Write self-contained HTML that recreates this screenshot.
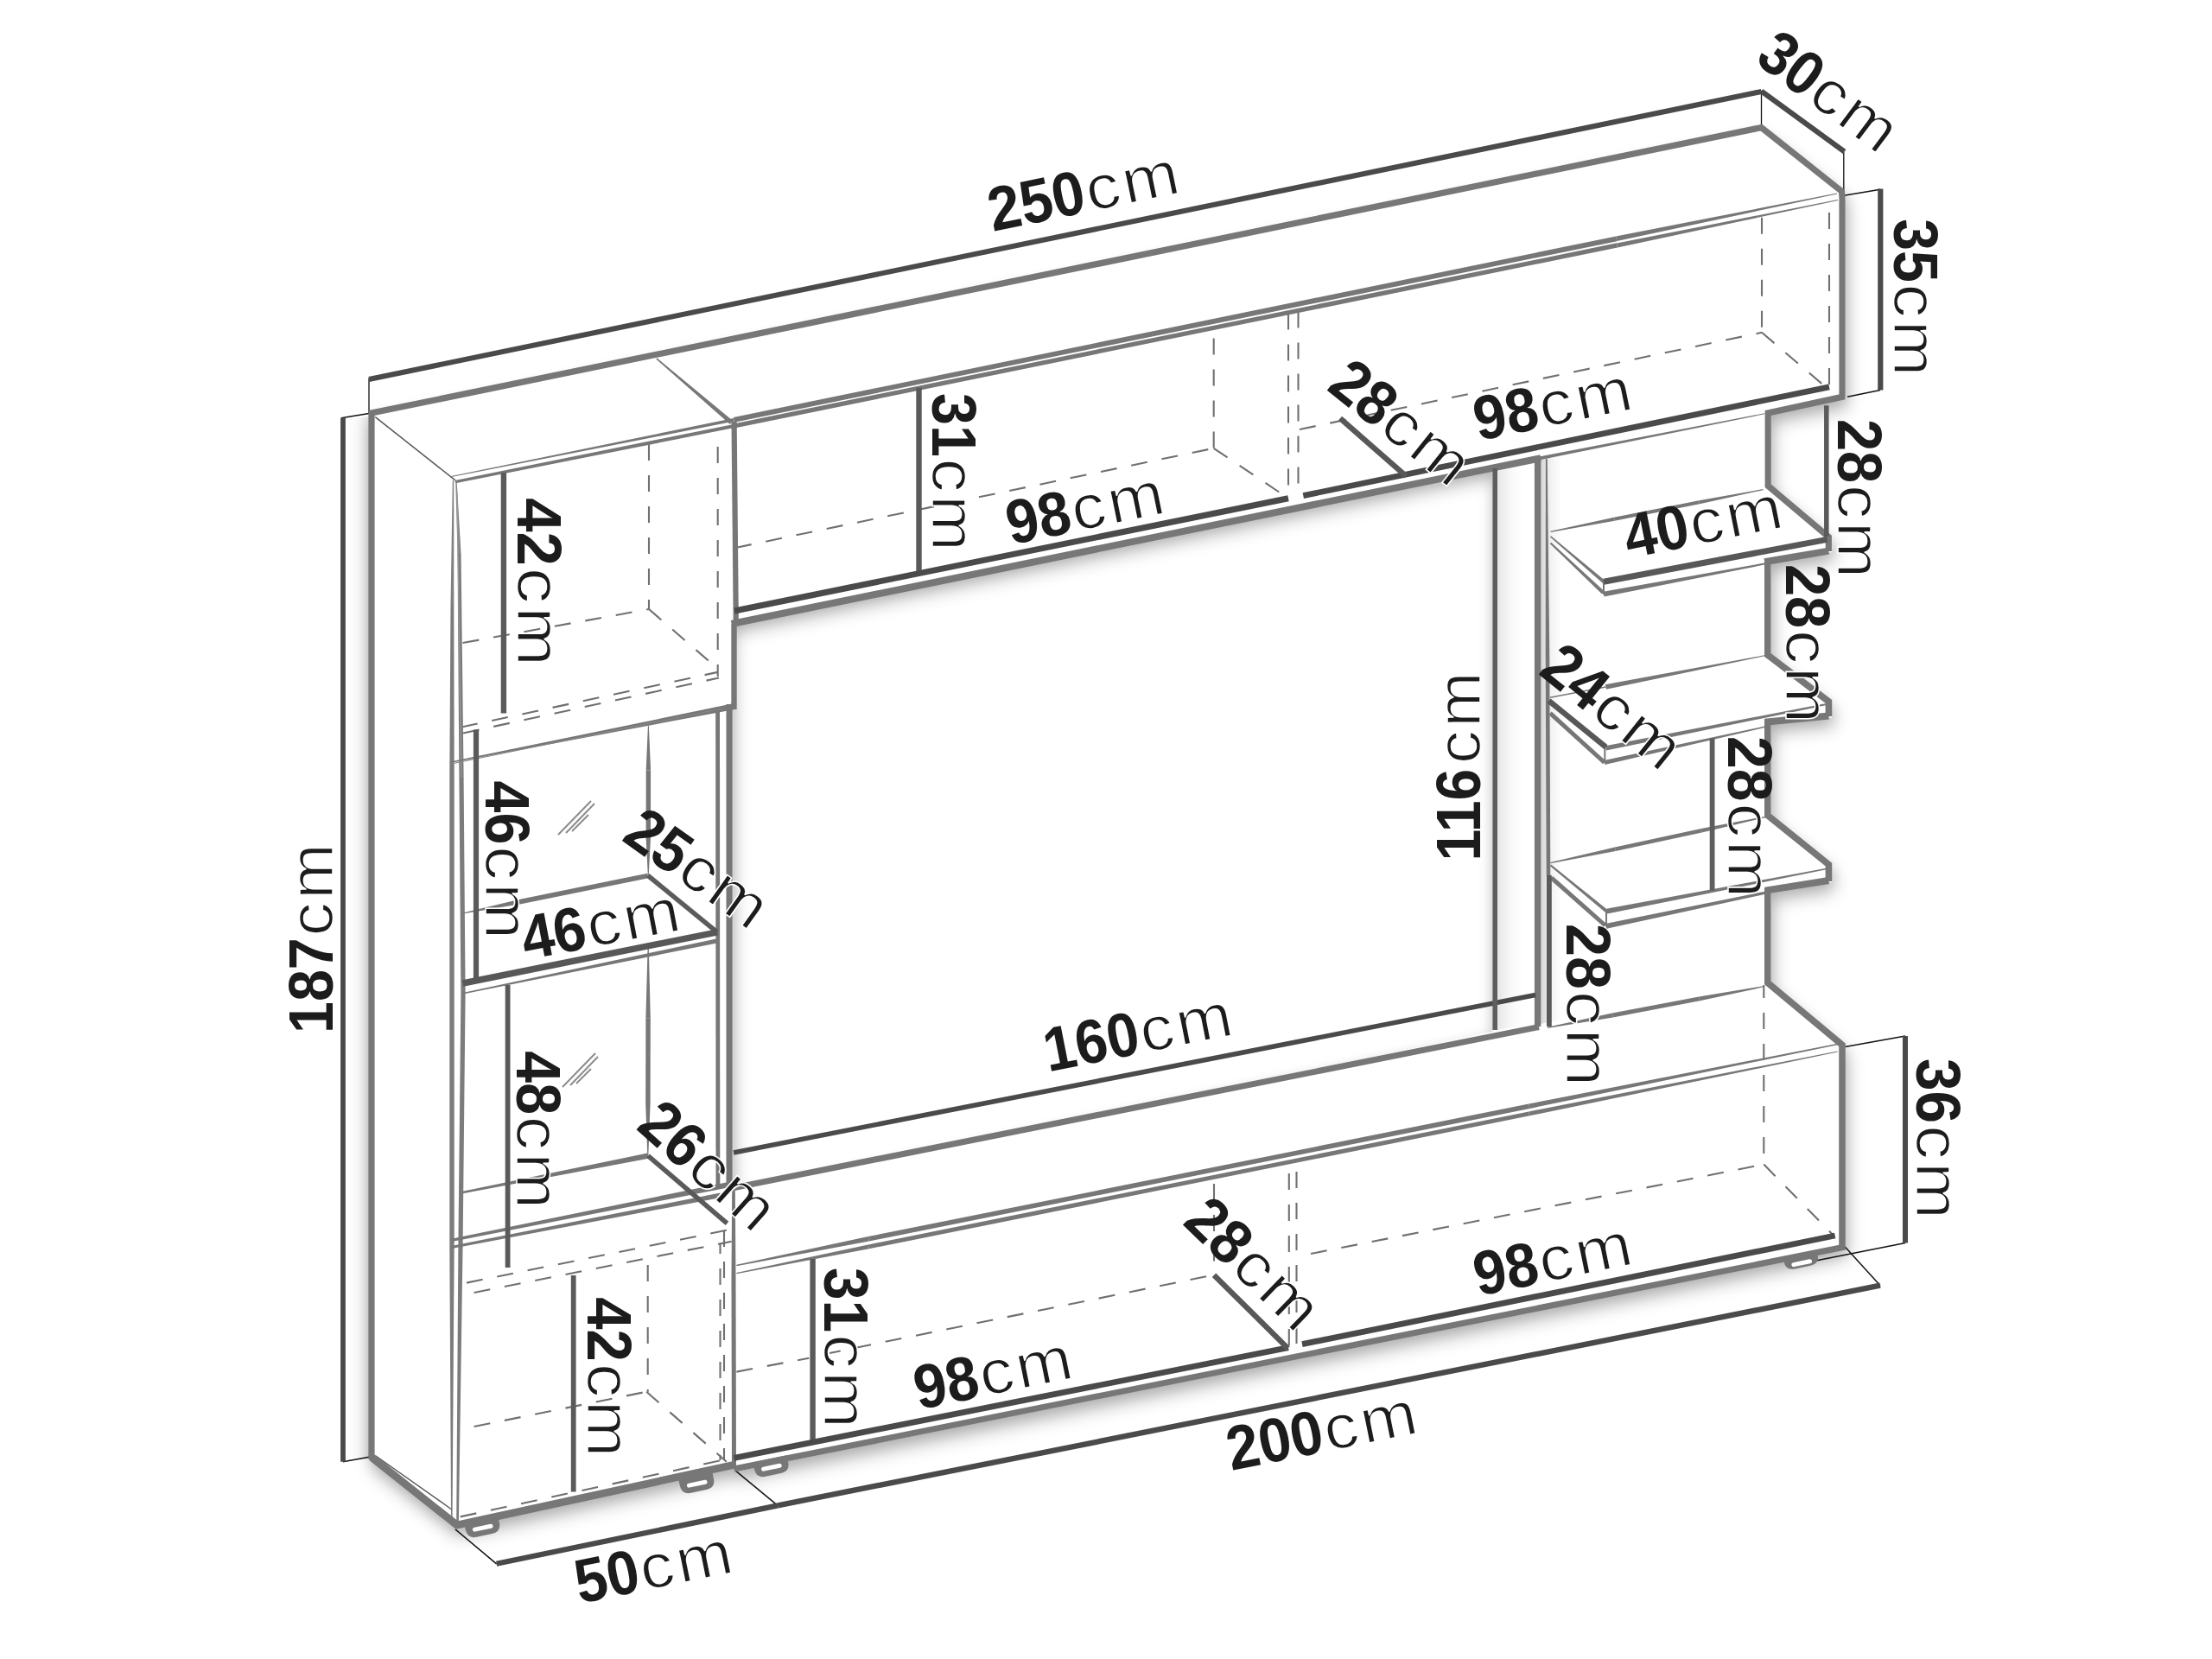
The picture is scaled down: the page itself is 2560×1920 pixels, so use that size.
<!DOCTYPE html>
<html><head><meta charset="utf-8"><title>Dimensions</title>
<style>
html,body{margin:0;padding:0;background:#fff;}
body{width:2560px;height:1920px;overflow:hidden;}
svg{display:block;font-family:"Liberation Sans",sans-serif;}
</style></head><body>
<svg width="2560" height="1920" viewBox="0 0 2560 1920">
<defs>
<filter id="blur" x="-5%" y="-5%" width="110%" height="110%"><feGaussianBlur stdDeviation="10"/></filter>
<filter id="blur2" x="-5%" y="-5%" width="110%" height="110%"><feGaussianBlur stdDeviation="7"/></filter>
<linearGradient id="g1" gradientUnits="userSpaceOnUse" x1="1733.0" y1="800.0" x2="1762.0" y2="800.0"><stop offset="0" stop-color="#000" stop-opacity="0.1"/><stop offset="0.5" stop-color="#000" stop-opacity="0.030"/><stop offset="1" stop-color="#000" stop-opacity="0"/></linearGradient>
<linearGradient id="g2" gradientUnits="userSpaceOnUse" x1="1783.0" y1="800.0" x2="1808.0" y2="800.0"><stop offset="0" stop-color="#000" stop-opacity="0.16"/><stop offset="0.5" stop-color="#000" stop-opacity="0.048"/><stop offset="1" stop-color="#000" stop-opacity="0"/></linearGradient>
<linearGradient id="g3" gradientUnits="userSpaceOnUse" x1="427.0" y1="1000.0" x2="402.0" y2="1000.0"><stop offset="0" stop-color="#000" stop-opacity="0.1"/><stop offset="0.5" stop-color="#000" stop-opacity="0.030"/><stop offset="1" stop-color="#000" stop-opacity="0"/></linearGradient>
</defs>
<rect width="2560" height="1920" fill="#ffffff"/>
<g filter="url(#blur)" opacity="0.26"><path d="M427.0,478.6 L2038.5,147.6 L2135.5,222.0 L2135.5,461.5 L2049.8,479.0 L2049.8,562.0 L2120.0,622.0 L2120.0,639.0 L2049.8,651.0 L2049.8,758.0 L2120.0,812.0 L2120.0,830.5 L2049.8,837.0 L2049.8,944.0 L2120.0,1000.5 L2120.0,1021.0 L2049.8,1031.5 L2049.8,1138.0 L2135.5,1210.0 L2135.5,1445.0 L852.0,1703.0 L852.0,1698.0 L528.3,1768.5 L427.0,1689.0 Z M847.0,722.0 L1727.5,541.7 L1727.5,1194.0 L847.0,1377.5 Z" fill="#000" fill-rule="evenodd" transform="translate(3,11)"/></g>
<g filter="url(#blur2)" opacity="0.08"><path d="M427.0,478.6 L2038.5,147.6 L2135.5,222.0 L2135.5,461.5 L2049.8,479.0 L2049.8,562.0 L2120.0,622.0 L2120.0,639.0 L2049.8,651.0 L2049.8,758.0 L2120.0,812.0 L2120.0,830.5 L2049.8,837.0 L2049.8,944.0 L2120.0,1000.5 L2120.0,1021.0 L2049.8,1031.5 L2049.8,1138.0 L2135.5,1210.0 L2135.5,1445.0 L852.0,1703.0 L852.0,1698.0 L528.3,1768.5 L427.0,1689.0 Z M847.0,722.0 L1727.5,541.7 L1727.5,1194.0 L847.0,1377.5 Z" fill="#000" fill-rule="evenodd" transform="translate(1,5)"/></g>
<path d="M427.0,478.6 L2038.5,147.6 L2135.5,222.0 L2135.5,461.5 L2049.8,479.0 L2049.8,562.0 L2120.0,622.0 L2120.0,639.0 L2049.8,651.0 L2049.8,758.0 L2120.0,812.0 L2120.0,830.5 L2049.8,837.0 L2049.8,944.0 L2120.0,1000.5 L2120.0,1021.0 L2049.8,1031.5 L2049.8,1138.0 L2135.5,1210.0 L2135.5,1445.0 L852.0,1703.0 L852.0,1698.0 L528.3,1768.5 L427.0,1689.0 Z M847.0,722.0 L1727.5,541.7 L1727.5,1194.0 L847.0,1377.5 Z" fill="#fff" fill-rule="evenodd"/>
<polygon points="1733.0,545.0 1762.0,540.0 1762.0,1187.0 1733.0,1192.0" fill="url(#g1)"/>
<polygon points="1783.0,531.0 1808.0,525.0 1808.0,1180.0 1783.0,1185.0" fill="url(#g2)"/>
<polygon points="400.0,486.0 427.0,482.0 427.0,1688.0 400.0,1692.0" fill="url(#g3)"/>
<line x1="427.0" y1="438.0" x2="427.0" y2="478.0" stroke="#111111" stroke-width="1.3" stroke-linecap="butt"/>
<line x1="395.0" y1="483.8" x2="427.0" y2="478.6" stroke="#111111" stroke-width="1.5" stroke-linecap="butt"/>
<line x1="2038.5" y1="105.0" x2="2038.5" y2="145.0" stroke="#111111" stroke-width="1.3" stroke-linecap="butt"/>
<line x1="2133.8" y1="176.0" x2="2133.8" y2="226.0" stroke="#111111" stroke-width="1.3" stroke-linecap="butt"/>
<line x1="2134.4" y1="226.2" x2="2176.0" y2="219.2" stroke="#111111" stroke-width="1.5" stroke-linecap="butt"/>
<line x1="2138.0" y1="459.3" x2="2176.0" y2="451.4" stroke="#111111" stroke-width="1.5" stroke-linecap="butt"/>
<line x1="397.0" y1="1691.7" x2="428.5" y2="1686.0" stroke="#111111" stroke-width="1.5" stroke-linecap="butt"/>
<line x1="526.9" y1="1769.9" x2="574.6" y2="1809.8" stroke="#111111" stroke-width="1.5" stroke-linecap="butt"/>
<line x1="851.0" y1="1701.9" x2="900.0" y2="1742.4" stroke="#111111" stroke-width="1.5" stroke-linecap="butt"/>
<line x1="2135.3" y1="1443.0" x2="2176.0" y2="1487.7" stroke="#111111" stroke-width="1.5" stroke-linecap="butt"/>
<line x1="2135.5" y1="1211.5" x2="2205.0" y2="1199.0" stroke="#111111" stroke-width="1.5" stroke-linecap="butt"/>
<line x1="2096.5" y1="1460.0" x2="2205.0" y2="1438.5" stroke="#111111" stroke-width="1.5" stroke-linecap="butt"/>
<line x1="751.0" y1="514.0" x2="751.0" y2="705.0" stroke="#707070" stroke-width="2.1" stroke-dasharray="19 17" stroke-dashoffset="0"/>
<line x1="830.7" y1="517.0" x2="830.7" y2="783.0" stroke="#707070" stroke-width="2.1" stroke-dasharray="19 17" stroke-dashoffset="0"/>
<line x1="535.6" y1="744.0" x2="751.0" y2="705.0" stroke="#707070" stroke-width="2.1" stroke-dasharray="19 17" stroke-dashoffset="0"/>
<line x1="751.0" y1="705.0" x2="830.7" y2="774.0" stroke="#707070" stroke-width="2.1" stroke-dasharray="19 17" stroke-dashoffset="0"/>
<line x1="534.0" y1="841.5" x2="830.7" y2="777.9" stroke="#707070" stroke-width="2.1" stroke-dasharray="19 17" stroke-dashoffset="0"/>
<line x1="536.0" y1="848.5" x2="832.0" y2="784.5" stroke="#707070" stroke-width="2.1" stroke-dasharray="19 17" stroke-dashoffset="0"/>
<line x1="851.0" y1="634.0" x2="1404.7" y2="518.8" stroke="#707070" stroke-width="2.1" stroke-dasharray="19 17" stroke-dashoffset="0"/>
<line x1="1404.7" y1="391.5" x2="1404.7" y2="518.8" stroke="#707070" stroke-width="2.1" stroke-dasharray="19 17" stroke-dashoffset="0"/>
<line x1="1404.7" y1="518.8" x2="1491.0" y2="576.7" stroke="#707070" stroke-width="2.1" stroke-dasharray="19 17" stroke-dashoffset="0"/>
<line x1="1491.0" y1="362.5" x2="1491.0" y2="573.8" stroke="#707070" stroke-width="2.1" stroke-dasharray="19 17" stroke-dashoffset="0"/>
<line x1="1502.5" y1="360.5" x2="1502.5" y2="571.8" stroke="#707070" stroke-width="2.1" stroke-dasharray="19 17" stroke-dashoffset="0"/>
<line x1="1504.0" y1="497.0" x2="2039.0" y2="384.8" stroke="#707070" stroke-width="2.1" stroke-dasharray="19 17" stroke-dashoffset="0"/>
<line x1="2039.0" y1="251.7" x2="2039.0" y2="384.8" stroke="#707070" stroke-width="2.1" stroke-dasharray="19 17" stroke-dashoffset="0"/>
<line x1="2039.0" y1="384.8" x2="2117.0" y2="451.4" stroke="#707070" stroke-width="2.1" stroke-dasharray="19 17" stroke-dashoffset="0"/>
<line x1="2117.0" y1="246.0" x2="2117.0" y2="451.4" stroke="#707070" stroke-width="2.1" stroke-dasharray="19 17" stroke-dashoffset="0"/>
<line x1="540.0" y1="1484.6" x2="840.8" y2="1423.8" stroke="#707070" stroke-width="2.1" stroke-dasharray="19 17" stroke-dashoffset="0"/>
<line x1="548.6" y1="1496.0" x2="846.6" y2="1436.8" stroke="#707070" stroke-width="2.1" stroke-dasharray="19 17" stroke-dashoffset="0"/>
<line x1="749.7" y1="1464.0" x2="749.7" y2="1610.7" stroke="#707070" stroke-width="2.1" stroke-dasharray="19 17" stroke-dashoffset="0"/>
<line x1="838.0" y1="1424.0" x2="838.0" y2="1690.0" stroke="#707070" stroke-width="2.1" stroke-dasharray="19 17" stroke-dashoffset="0"/>
<line x1="833.5" y1="1440.0" x2="833.5" y2="1690.0" stroke="#707070" stroke-width="2.1" stroke-dasharray="19 17" stroke-dashoffset="8"/>
<line x1="548.6" y1="1651.0" x2="748.2" y2="1610.7" stroke="#707070" stroke-width="2.1" stroke-dasharray="19 17" stroke-dashoffset="0"/>
<line x1="748.2" y1="1610.7" x2="840.8" y2="1691.7" stroke="#707070" stroke-width="2.1" stroke-dasharray="19 17" stroke-dashoffset="0"/>
<line x1="532.7" y1="1755.4" x2="840.8" y2="1688.8" stroke="#707070" stroke-width="2.1" stroke-dasharray="19 17" stroke-dashoffset="0"/>
<line x1="852.4" y1="1587.6" x2="936.3" y2="1571.7" stroke="#707070" stroke-width="2.1" stroke-dasharray="19 17" stroke-dashoffset="0"/>
<line x1="960.0" y1="1566.0" x2="1400.0" y2="1476.5" stroke="#707070" stroke-width="2.1" stroke-dasharray="19 17" stroke-dashoffset="6"/>
<line x1="1405.0" y1="1370.0" x2="1405.0" y2="1459.6" stroke="#707070" stroke-width="2.1" stroke-dasharray="19 17" stroke-dashoffset="0"/>
<line x1="1491.8" y1="1358.0" x2="1491.8" y2="1557.0" stroke="#707070" stroke-width="2.1" stroke-dasharray="19 17" stroke-dashoffset="0"/>
<line x1="1500.5" y1="1356.0" x2="1500.5" y2="1555.0" stroke="#707070" stroke-width="2.1" stroke-dasharray="19 17" stroke-dashoffset="0"/>
<line x1="1517.0" y1="1451.0" x2="2041.3" y2="1347.6" stroke="#707070" stroke-width="2.1" stroke-dasharray="19 17" stroke-dashoffset="0"/>
<line x1="2041.3" y1="1140.0" x2="2041.3" y2="1344.7" stroke="#707070" stroke-width="2.1" stroke-dasharray="19 17" stroke-dashoffset="4"/>
<line x1="2041.3" y1="1347.6" x2="2120.8" y2="1428.6" stroke="#707070" stroke-width="2.1" stroke-dasharray="19 17" stroke-dashoffset="0"/>
<line x1="434.3" y1="482.6" x2="526.9" y2="555.8" stroke="#555" stroke-width="1.5" stroke-linecap="butt"/>
<polygon points="522.6,552.1 849.9,487.6 849.1,484.0 522.4,550.9" fill="#777777"/>
<polygon points="527.2,559.2 849.9,495.1 849.1,490.9 526.6,556.0" fill="#777777"/>
<polygon points="523.8,556.0 521.5,700.0 525.3,700.0 525.2,556.0" fill="#808080"/>
<polygon points="521.5,700.0 520.3,900.0 525.7,900.0 525.3,700.0" fill="#7c7c7c"/>
<line x1="523.0" y1="900.0" x2="523.0" y2="1150.0" stroke="#7c7c7c" stroke-width="5.4" stroke-linecap="butt"/>
<line x1="523.0" y1="1150.0" x2="523.0" y2="1440.0" stroke="#7c7c7c" stroke-width="5.4" stroke-linecap="butt"/>
<polygon points="520.3,1440.0 522.1,1765.0 523.5,1765.0 525.7,1440.0" fill="#7c7c7c"/>
<polygon points="527.3,558.0 529.5,640.1 533.5,639.9 528.7,558.0" fill="#858585"/>
<polygon points="529.5,640.0 531.4,900.0 536.6,900.0 533.5,640.0" fill="#7c7c7c"/>
<line x1="534.0" y1="900.0" x2="536.0" y2="1150.0" stroke="#7c7c7c" stroke-width="5.2" stroke-linecap="butt"/>
<line x1="536.0" y1="1150.0" x2="533.0" y2="1440.0" stroke="#7c7c7c" stroke-width="5.2" stroke-linecap="butt"/>
<polygon points="530.4,1440.0 528.2,1765.0 530.8,1765.0 535.6,1440.0" fill="#7c7c7c"/>
<line x1="529.0" y1="570.0" x2="534.0" y2="900.0" stroke="#999" stroke-width="1.2" stroke-linecap="butt"/>
<line x1="434.3" y1="1684.5" x2="522.5" y2="1746.7" stroke="#555" stroke-width="1.4" stroke-linecap="butt"/>
<line x1="830.6" y1="818.0" x2="830.9" y2="1372.0" stroke="#777777" stroke-width="4.8" stroke-linecap="butt"/>
<polygon points="749.9,840.0 747.7,891.6 753.1,891.6 750.9,840.0" fill="#777777"/>
<polygon points="747.7,891.6 747.6,969.0 753.0,969.0 753.1,891.6" fill="#777777"/>
<polygon points="747.6,969.0 749.8,1012.0 750.8,1012.0 753.0,969.0" fill="#777777"/>
<polygon points="749.7,1092.0 747.4,1178.3 752.8,1178.3 750.7,1092.0" fill="#777777"/>
<polygon points="747.4,1178.3 747.2,1276.9 752.6,1276.9 752.8,1178.3" fill="#777777"/>
<polygon points="747.2,1276.9 749.3,1338.5 750.3,1338.5 752.6,1276.9" fill="#777777"/>
<polygon points="522.6,882.7 853.1,820.4 851.7,813.6 522.4,881.3" fill="#777777"/>
<line x1="522.5" y1="884.0" x2="836.0" y2="820.0" stroke="#888" stroke-width="1.2" stroke-linecap="butt"/>
<polygon points="522.8,1437.1 847.6,1373.5 846.4,1367.3 522.2,1433.7" fill="#777777"/>
<polygon points="522.8,1445.1 834.5,1385.9 833.5,1380.5 522.2,1442.1" fill="#777777"/>
<polygon points="535.7,1057.6 600.5,1046.5 599.5,1041.3 535.5,1056.4" fill="#777777"/>
<line x1="600.0" y1="1043.9" x2="749.9" y2="1013.4" stroke="#777777" stroke-width="5.6" stroke-linecap="butt"/>
<polygon points="535.8,1150.5 829.8,1091.5 828.8,1086.5 535.4,1148.9" fill="#777777"/>
<polygon points="535.8,1381.2 750.6,1340.7 749.4,1334.5 535.4,1378.8" fill="#777777"/>
<line x1="646.0" y1="966.0" x2="684.0" y2="927.0" stroke="#8c8c8c" stroke-width="2" stroke-linecap="butt"/>
<line x1="655.0" y1="964.0" x2="688.0" y2="930.0" stroke="#8c8c8c" stroke-width="2" stroke-linecap="butt"/>
<line x1="662.0" y1="962.0" x2="681.0" y2="943.0" stroke="#8c8c8c" stroke-width="2" stroke-linecap="butt"/>
<line x1="651.0" y1="1258.0" x2="689.0" y2="1219.0" stroke="#8c8c8c" stroke-width="2" stroke-linecap="butt"/>
<line x1="660.0" y1="1256.0" x2="692.0" y2="1223.0" stroke="#8c8c8c" stroke-width="2" stroke-linecap="butt"/>
<line x1="667.0" y1="1254.0" x2="684.0" y2="1237.0" stroke="#8c8c8c" stroke-width="2" stroke-linecap="butt"/>
<line x1="849.5" y1="485.8" x2="1870.7" y2="276.3" stroke="#777777" stroke-width="5.8" stroke-linecap="butt"/>
<polygon points="1871.3,279.1 2126.1,224.4 2125.9,223.4 1870.1,273.5" fill="#777777"/>
<line x1="849.5" y1="493.0" x2="1871.5" y2="283.9" stroke="#777777" stroke-width="5.2" stroke-linecap="butt"/>
<polygon points="1872.0,286.4 2127.1,232.1 2126.9,231.1 1871.0,281.4" fill="#777777"/>
<polygon points="852.5,1465.2 1005.8,1436.5 1004.8,1431.1 852.3,1463.8" fill="#777777"/>
<polygon points="1005.8,1436.5 1770.4,1282.9 1769.3,1277.5 1004.8,1431.1" fill="#777777"/>
<polygon points="1770.4,1282.9 2126.7,1209.2 2126.5,1207.8 1769.3,1277.5" fill="#777777"/>
<polygon points="852.5,1474.2 1005.8,1445.3 1004.8,1440.4 852.3,1473.0" fill="#777777"/>
<polygon points="1005.8,1445.3 1770.3,1291.3 1769.3,1286.4 1004.8,1440.4" fill="#777777"/>
<polygon points="1770.3,1291.3 2126.7,1217.6 2126.5,1216.4 1769.3,1286.4" fill="#777777"/>
<polygon points="1790.9,1190.0 1866.7,1177.5 1865.8,1172.6 1790.7,1188.8" fill="#777777"/>
<polygon points="1866.7,1177.5 1967.2,1158.3 1966.3,1153.4 1865.8,1172.6" fill="#777777"/>
<polygon points="1967.2,1158.3 2042.3,1142.1 2042.1,1140.9 1966.3,1153.4" fill="#777777"/>
<polygon points="1788.9,531.0 1788.7,760.0 1793.3,760.0 1790.7,531.0" fill="#777777"/>
<line x1="1791.0" y1="760.0" x2="1792.0" y2="1014.0" stroke="#777777" stroke-width="4.6" stroke-linecap="butt"/>
<polyline points="430.0,1689.0 430.0,478.0 2038.5,147.6 2131.5,221.5 2132.0,229.0 2132.0,459.3 2046.2,478.0 2046.2,562.3 2116.3,621.5 2116.3,638.0" fill="none" stroke="#777777" stroke-width="7.2" stroke-linejoin="miter" stroke-linecap="butt"/>
<line x1="846.6" y1="722.0" x2="1783.0" y2="530.2" stroke="#777777" stroke-width="8" stroke-linecap="butt"/>
<polygon points="1783.4,532.1 2042.1,479.3 2041.9,478.3 1782.6,528.3" fill="#777777"/>
<line x1="849.6" y1="488.0" x2="851.8" y2="722.0" stroke="#777777" stroke-width="6.2" stroke-linecap="butt"/>
<line x1="849.5" y1="722.0" x2="849.5" y2="817.0" stroke="#777777" stroke-width="6.4" stroke-linecap="butt"/>
<line x1="844.0" y1="815.0" x2="844.0" y2="1377.5" stroke="#777777" stroke-width="7" stroke-linecap="butt"/>
<polygon points="847.2,1376.0 846.5,1480.0 851.5,1480.0 850.8,1376.0" fill="#777777"/>
<line x1="849.0" y1="1480.0" x2="849.5" y2="1698.0" stroke="#777777" stroke-width="5" stroke-linecap="butt"/>
<polygon points="759.3,415.5 844.8,491.0 848.2,487.0 760.3,414.3" fill="#777777"/>
<polyline points="430.0,1686.5 528.8,1765.0 849.5,1695.3" fill="none" stroke="#777777" stroke-width="8.8" stroke-linejoin="miter" stroke-linecap="butt"/>
<line x1="849.5" y1="1700.0" x2="2135.3" y2="1443.0" stroke="#777777" stroke-width="7" stroke-linecap="butt"/>
<line x1="849.5" y1="1374.6" x2="1781.0" y2="1188.5" stroke="#777777" stroke-width="7" stroke-linecap="butt"/>
<line x1="1779.6" y1="528.0" x2="1779.6" y2="1188.0" stroke="#777777" stroke-width="7.4" stroke-linecap="butt"/>
<polygon points="1794.6,616.0 1868.7,602.7 1867.9,598.8 1794.4,614.8" fill="#777777"/>
<polygon points="1868.7,602.7 1967.0,583.2 1966.2,579.3 1867.9,598.8" fill="#777777"/>
<polygon points="1967.0,583.2 2040.5,567.2 2040.3,566.0 1966.2,579.3" fill="#777777"/>
<polygon points="1794.0,621.4 1854.7,674.8 1857.3,671.8 1795.0,620.2" fill="#777777"/>
<polygon points="1793.8,629.2 1854.0,687.6 1857.0,684.4 1795.2,627.8" fill="#777777"/>
<line x1="1856.0" y1="673.3" x2="1856.0" y2="688.0" stroke="#777777" stroke-width="2" stroke-linecap="butt"/>
<polygon points="1856.6,690.6 2042.4,653.5 2042.0,651.5 1855.4,684.8" fill="#777777"/>
<polyline points="2042.2,650.2 2116.3,637.6" fill="none" stroke="#777777" stroke-width="8" stroke-linejoin="miter" stroke-linecap="butt"/>
<polyline points="2045.8,647.0 2045.8,758.0 2116.4,812.0 2116.4,829.0" fill="none" stroke="#777777" stroke-width="7.6" stroke-linejoin="miter" stroke-linecap="butt"/>
<line x1="1794.0" y1="807.3" x2="1858.4" y2="795.0" stroke="#777777" stroke-width="1.5" stroke-linecap="butt"/>
<polygon points="1859.0,797.8 2042.2,759.3 2042.0,758.3 1857.8,792.2" fill="#777777"/>
<line x1="1794.0" y1="825.4" x2="1856.9" y2="882.5" stroke="#777777" stroke-width="5" stroke-linecap="butt"/>
<line x1="1857.3" y1="864.4" x2="1857.3" y2="883.0" stroke="#777777" stroke-width="2" stroke-linecap="butt"/>
<polygon points="1858.9,868.6 2116.6,815.5 2116.2,813.5 1857.9,863.2" fill="#777777"/>
<polygon points="1857.4,884.9 2042.3,842.0 2041.9,840.6 1856.4,880.1" fill="#777777"/>
<polyline points="2042.5,835.8 2116.4,828.5" fill="none" stroke="#777777" stroke-width="8" stroke-linejoin="miter" stroke-linecap="butt"/>
<polyline points="2045.8,832.0 2045.8,943.8 2116.4,1000.5 2116.4,1020.0" fill="none" stroke="#777777" stroke-width="7.6" stroke-linejoin="miter" stroke-linecap="butt"/>
<polygon points="1794.6,999.3 1869.8,984.9 1868.9,980.5 1794.4,998.1" fill="#777777"/>
<polygon points="1869.8,984.9 1969.6,963.5 1968.7,959.1 1868.9,980.5" fill="#777777"/>
<polygon points="1969.6,963.5 2044.1,945.9 2043.9,944.7 1968.7,959.1" fill="#777777"/>
<polygon points="1793.9,1002.2 1858.3,1056.2 1860.9,1053.2 1795.1,1000.6" fill="#777777"/>
<line x1="1795.4" y1="1015.8" x2="1857.8" y2="1071.0" stroke="#777777" stroke-width="5" stroke-linecap="butt"/>
<line x1="1859.0" y1="1054.7" x2="1859.0" y2="1072.5" stroke="#777777" stroke-width="2" stroke-linecap="butt"/>
<polygon points="1860.2,1057.6 2116.5,1005.7 2116.3,1004.3 1859.0,1051.8" fill="#777777"/>
<polygon points="1859.3,1074.8 2044.3,1034.5 2043.7,1031.5 1858.1,1069.0" fill="#777777"/>
<polyline points="2043.0,1030.6 2116.4,1019.0" fill="none" stroke="#777777" stroke-width="8" stroke-linejoin="miter" stroke-linecap="butt"/>
<polyline points="2045.8,1027.0 2045.8,1137.5 2132.0,1209.3 2132.0,1445.5" fill="none" stroke="#777777" stroke-width="7.6" stroke-linejoin="miter" stroke-linecap="butt"/>
<g transform="translate(537.5,1764.5) rotate(-12)"><path d="M0,-2 L0,6 Q0,17 11,17 L29,17 Q40,17 40,6 L40,-2 Z" fill="#777777"/><rect x="8" y="5.5" width="24" height="5" rx="2.5" fill="#fff"/></g>
<g transform="translate(785.5,1713.5) rotate(-12)"><path d="M0,-2 L0,6 Q0,17 11,17 L29,17 Q40,17 40,6 L40,-2 Z" fill="#777777"/><rect x="8" y="5.5" width="24" height="5" rx="2.5" fill="#fff"/></g>
<g transform="translate(871.7,1694.5) rotate(-12)"><path d="M0,-2 L0,6 Q0,17 11,17 L29,17 Q40,17 40,6 L40,-2 Z" fill="#777777"/><rect x="8" y="5.5" width="24" height="5" rx="2.5" fill="#fff"/></g>
<g transform="translate(2064.0,1458.0) rotate(-12)"><path d="M0,-2 L0,2 Q0,13 11,13 L29,13 Q40,13 40,2 L40,-2 Z" fill="#777777"/><rect x="8" y="5.5" width="24" height="5" rx="2.5" fill="#fff"/></g>
<line x1="427.0" y1="439.0" x2="2038.5" y2="106.0" stroke="#4a4a4a" stroke-width="6" stroke-linecap="butt"/>
<line x1="2038.5" y1="105.5" x2="2134.6" y2="175.5" stroke="#4a4a4a" stroke-width="6" stroke-linecap="butt"/>
<line x1="2176.3" y1="218.5" x2="2176.3" y2="451.5" stroke="#4a4a4a" stroke-width="6.2" stroke-linecap="butt"/>
<line x1="2113.8" y1="469.3" x2="2113.8" y2="621.0" stroke="#5a5a5a" stroke-width="5.5" stroke-linecap="butt"/>
<line x1="397.0" y1="483.5" x2="397.0" y2="1691.7" stroke="#4a4a4a" stroke-width="5.8" stroke-linecap="butt"/>
<line x1="2205.0" y1="1199.0" x2="2205.0" y2="1438.5" stroke="#4a4a4a" stroke-width="6" stroke-linecap="butt"/>
<line x1="900.0" y1="1742.4" x2="2176.0" y2="1487.7" stroke="#4a4a4a" stroke-width="6.4" stroke-linecap="butt"/>
<line x1="574.6" y1="1809.8" x2="900.0" y2="1742.4" stroke="#4a4a4a" stroke-width="6.2" stroke-linecap="butt"/>
<line x1="849.0" y1="1334.0" x2="1777.0" y2="1151.5" stroke="#4a4a4a" stroke-width="5.6" stroke-linecap="butt"/>
<line x1="1730.2" y1="542.0" x2="1730.2" y2="1192.0" stroke="#5e5e5e" stroke-width="5.6" stroke-linecap="butt"/>
<line x1="582.9" y1="547.0" x2="582.9" y2="825.6" stroke="#5a5a5a" stroke-width="6.4" stroke-linecap="butt"/>
<line x1="551.0" y1="844.4" x2="551.0" y2="1133.0" stroke="#5a5a5a" stroke-width="6.2" stroke-linecap="butt"/>
<line x1="587.6" y1="1140.0" x2="587.6" y2="1467.0" stroke="#5a5a5a" stroke-width="5.8" stroke-linecap="butt"/>
<line x1="663.7" y1="1476.0" x2="663.7" y2="1726.5" stroke="#5a5a5a" stroke-width="5.8" stroke-linecap="butt"/>
<line x1="1063.5" y1="448.8" x2="1063.5" y2="664.5" stroke="#5a5a5a" stroke-width="6.4" stroke-linecap="butt"/>
<line x1="940.6" y1="1457.0" x2="940.6" y2="1668.5" stroke="#5a5a5a" stroke-width="6.4" stroke-linecap="butt"/>
<line x1="850.0" y1="707.0" x2="1491.0" y2="576.7" stroke="#4a4a4a" stroke-width="7" stroke-linecap="butt"/>
<line x1="1508.3" y1="573.6" x2="2117.0" y2="447.8" stroke="#4a4a4a" stroke-width="6.8" stroke-linecap="butt"/>
<line x1="1551.0" y1="484.2" x2="1627.4" y2="551.2" stroke="#585858" stroke-width="6.4" stroke-linecap="butt"/>
<line x1="849.5" y1="1687.4" x2="1491.0" y2="1559.6" stroke="#4a4a4a" stroke-width="6.8" stroke-linecap="butt"/>
<line x1="1507.0" y1="1555.7" x2="2123.7" y2="1430.0" stroke="#4a4a4a" stroke-width="6.8" stroke-linecap="butt"/>
<line x1="1405.0" y1="1475.7" x2="1490.5" y2="1560.4" stroke="#585858" stroke-width="6.4" stroke-linecap="butt"/>
<line x1="749.7" y1="1013.2" x2="830.0" y2="1078.8" stroke="#5c5c5c" stroke-width="5.6" stroke-linecap="butt"/>
<line x1="750.0" y1="1337.6" x2="841.5" y2="1415.8" stroke="#5a5a5a" stroke-width="5.6" stroke-linecap="butt"/>
<line x1="535.6" y1="1138.0" x2="830.0" y2="1078.8" stroke="#585858" stroke-width="7.4" stroke-linecap="butt"/>
<line x1="1856.0" y1="673.3" x2="2114.5" y2="624.4" stroke="#585858" stroke-width="7" stroke-linecap="butt"/>
<line x1="1792.5" y1="810.9" x2="1858.4" y2="864.4" stroke="#585858" stroke-width="6.5" stroke-linecap="butt"/>
<line x1="1981.6" y1="854.5" x2="1981.6" y2="1030.5" stroke="#5e5e5e" stroke-width="5.8" stroke-linecap="butt"/>
<line x1="1792.9" y1="1013.0" x2="1792.9" y2="1188.0" stroke="#5a5a5a" stroke-width="5.8" stroke-linecap="butt"/>
<g class="lbl" transform="translate(1149.0,268.0) rotate(-11.7)" font-size="72" fill="#1c1c1c"><text transform="scale(0.9386,1)" font-weight="700">250</text><text transform="translate(114.83,0) scale(1.0950,1)" font-weight="400" letter-spacing="3.5" stroke="#fff" stroke-width="1.5">cm</text></g>
<g class="lbl" transform="translate(2029.5,71.0) rotate(36.8)" font-size="72" fill="#1c1c1c"><text transform="scale(0.9137,1)" font-weight="700">30</text><text transform="translate(75.20,0) scale(1.0660,1)" font-weight="400" letter-spacing="3.5" stroke="#fff" stroke-width="1.5">cm</text></g>
<g class="lbl" transform="translate(2192.2,253.2) rotate(90.0)" font-size="72" fill="#1c1c1c"><text transform="scale(0.9173,1)" font-weight="700">35</text><text transform="translate(75.49,0) scale(1.0702,1)" font-weight="400" letter-spacing="3.5" stroke="#fff" stroke-width="1.5">cm</text></g>
<g class="lbl" transform="translate(384.8,1196.0) rotate(-90.0)" font-size="72" fill="#1c1c1c"><text transform="scale(0.9220,1)" font-weight="700">187</text><text transform="translate(112.79,0) scale(1.0756,1)" font-weight="400" letter-spacing="3.5" stroke="#fff" stroke-width="1.5">cm</text></g>
<g class="lbl" transform="translate(598.6,576.2) rotate(90.0)" font-size="72" fill="#1c1c1c"><text transform="scale(0.9818,1)" font-weight="700">42</text><text transform="translate(80.80,0) scale(1.1454,1)" font-weight="400" letter-spacing="3.5" stroke="#fff" stroke-width="1.5">cm</text></g>
<g class="lbl" transform="translate(562.0,903.6) rotate(90.0)" font-size="72" fill="#1c1c1c"><text transform="scale(0.9234,1)" font-weight="700">46</text><text transform="translate(76.00,0) scale(1.0773,1)" font-weight="400" letter-spacing="3.5" stroke="#fff" stroke-width="1.5">cm</text></g>
<g class="lbl" transform="translate(608.4,1110.9) rotate(-10.8)" font-size="72" fill="#1c1c1c"><text transform="scale(0.9332,1)" font-weight="700">46</text><text transform="translate(76.80,0) scale(1.0887,1)" font-weight="400" letter-spacing="3.5" stroke="#fff" stroke-width="1.5">cm</text></g>
<g class="lbl" transform="translate(718.1,971.7) rotate(35.3)" font-size="72" fill="#1c1c1c"><text transform="scale(0.9280,1)" font-weight="700">25</text><text transform="translate(76.37,0) scale(1.0827,1)" font-weight="400" letter-spacing="3.5" stroke="#fff" stroke-width="1.5">cm</text></g>
<g class="lbl" transform="translate(598.4,1216.3) rotate(90.0)" font-size="72" fill="#1c1c1c"><text transform="scale(0.9203,1)" font-weight="700">48</text><text transform="translate(75.74,0) scale(1.0736,1)" font-weight="400" letter-spacing="3.5" stroke="#fff" stroke-width="1.5">cm</text></g>
<g class="lbl" transform="translate(734.8,1305.7) rotate(41.7)" font-size="72" fill="#1c1c1c"><text transform="scale(0.9314,1)" font-weight="700">26</text><text transform="translate(76.66,0) scale(1.0866,1)" font-weight="400" letter-spacing="3.5" stroke="#fff" stroke-width="1.5">cm</text></g>
<g class="lbl" transform="translate(680.2,1501.3) rotate(90.0)" font-size="72" fill="#1c1c1c"><text transform="scale(0.9320,1)" font-weight="700">42</text><text transform="translate(76.70,0) scale(1.0873,1)" font-weight="400" letter-spacing="3.5" stroke="#fff" stroke-width="1.5">cm</text></g>
<g class="lbl" transform="translate(670.8,1856.0) rotate(-11.5)" font-size="72" fill="#1c1c1c"><text transform="scale(0.9271,1)" font-weight="700">50</text><text transform="translate(76.30,0) scale(1.0816,1)" font-weight="400" letter-spacing="3.5" stroke="#fff" stroke-width="1.5">cm</text></g>
<g class="lbl" transform="translate(1079.2,455.0) rotate(90.0)" font-size="72" fill="#1c1c1c"><text transform="scale(0.9214,1)" font-weight="700">31</text><text transform="translate(75.83,0) scale(1.0750,1)" font-weight="400" letter-spacing="3.5" stroke="#fff" stroke-width="1.5">cm</text></g>
<g class="lbl" transform="translate(1169.9,630.5) rotate(-11.6)" font-size="72" fill="#1c1c1c"><text transform="scale(0.9307,1)" font-weight="700">98</text><text transform="translate(76.60,0) scale(1.0858,1)" font-weight="400" letter-spacing="3.5" stroke="#fff" stroke-width="1.5">cm</text></g>
<g class="lbl" transform="translate(1534.0,450.2) rotate(38.7)" font-size="72" fill="#1c1c1c"><text transform="scale(0.9322,1)" font-weight="700">28</text><text transform="translate(76.72,0) scale(1.0876,1)" font-weight="400" letter-spacing="3.5" stroke="#fff" stroke-width="1.5">cm</text></g>
<g class="lbl" transform="translate(1711.0,510.2) rotate(-11.6)" font-size="72" fill="#1c1c1c"><text transform="scale(0.9318,1)" font-weight="700">98</text><text transform="translate(76.69,0) scale(1.0871,1)" font-weight="400" letter-spacing="3.5" stroke="#fff" stroke-width="1.5">cm</text></g>
<g class="lbl" transform="translate(2127.1,485.0) rotate(90.0)" font-size="72" fill="#1c1c1c"><text transform="scale(0.9269,1)" font-weight="700">28</text><text transform="translate(76.29,0) scale(1.0814,1)" font-weight="400" letter-spacing="3.5" stroke="#fff" stroke-width="1.5">cm</text></g>
<g class="lbl" transform="translate(1885.1,646.3) rotate(-11.4)" font-size="72" fill="#1c1c1c"><text transform="scale(0.9310,1)" font-weight="700">40</text><text transform="translate(76.62,0) scale(1.0861,1)" font-weight="400" letter-spacing="3.5" stroke="#fff" stroke-width="1.5">cm</text></g>
<g class="lbl" transform="translate(2066.6,653.0) rotate(90.0)" font-size="72" fill="#1c1c1c"><text transform="scale(0.9269,1)" font-weight="700">28</text><text transform="translate(76.29,0) scale(1.0814,1)" font-weight="400" letter-spacing="3.5" stroke="#fff" stroke-width="1.5">cm</text></g>
<g class="lbl" transform="translate(1779.0,779.0) rotate(38.8)" font-size="72" fill="#1c1c1c"><text transform="scale(0.9299,1)" font-weight="700">24</text><text transform="translate(76.53,0) scale(1.0849,1)" font-weight="400" letter-spacing="3.5" stroke="#fff" stroke-width="1.5">cm</text></g>
<g class="lbl" transform="translate(1713.1,996.4) rotate(-90.0)" font-size="72" fill="#1c1c1c"><text transform="scale(0.9178,1)" font-weight="700">116</text><text transform="translate(112.29,0) scale(1.0708,1)" font-weight="400" letter-spacing="3.5" stroke="#fff" stroke-width="1.5">cm</text></g>
<g class="lbl" transform="translate(2000.4,851.9) rotate(90.0)" font-size="72" fill="#1c1c1c"><text transform="scale(0.9429,1)" font-weight="700">28</text><text transform="translate(77.60,0) scale(1.1001,1)" font-weight="400" letter-spacing="3.5" stroke="#fff" stroke-width="1.5">cm</text></g>
<g class="lbl" transform="translate(1812.7,1069.0) rotate(90.0)" font-size="72" fill="#1c1c1c"><text transform="scale(0.9483,1)" font-weight="700">28</text><text transform="translate(78.05,0) scale(1.1064,1)" font-weight="400" letter-spacing="3.5" stroke="#fff" stroke-width="1.5">cm</text></g>
<g class="lbl" transform="translate(1213.0,1240.4) rotate(-11.2)" font-size="72" fill="#1c1c1c"><text transform="scale(0.9257,1)" font-weight="700">160</text><text transform="translate(113.25,0) scale(1.0800,1)" font-weight="400" letter-spacing="3.5" stroke="#fff" stroke-width="1.5">cm</text></g>
<g class="lbl" transform="translate(2218.2,1225.0) rotate(90.0)" font-size="72" fill="#1c1c1c"><text transform="scale(0.9374,1)" font-weight="700">36</text><text transform="translate(77.15,0) scale(1.0937,1)" font-weight="400" letter-spacing="3.5" stroke="#fff" stroke-width="1.5">cm</text></g>
<g class="lbl" transform="translate(954.0,1467.0) rotate(90.0)" font-size="72" fill="#1c1c1c"><text transform="scale(0.9374,1)" font-weight="700">31</text><text transform="translate(77.15,0) scale(1.0937,1)" font-weight="400" letter-spacing="3.5" stroke="#fff" stroke-width="1.5">cm</text></g>
<g class="lbl" transform="translate(1063.2,1631.5) rotate(-11.6)" font-size="72" fill="#1c1c1c"><text transform="scale(0.9328,1)" font-weight="700">98</text><text transform="translate(76.77,0) scale(1.0883,1)" font-weight="400" letter-spacing="3.5" stroke="#fff" stroke-width="1.5">cm</text></g>
<g class="lbl" transform="translate(1367.2,1415.9) rotate(44.0)" font-size="72" fill="#1c1c1c"><text transform="scale(0.9326,1)" font-weight="700">28</text><text transform="translate(76.75,0) scale(1.0880,1)" font-weight="400" letter-spacing="3.5" stroke="#fff" stroke-width="1.5">cm</text></g>
<g class="lbl" transform="translate(1711.0,1499.9) rotate(-11.6)" font-size="72" fill="#1c1c1c"><text transform="scale(0.9318,1)" font-weight="700">98</text><text transform="translate(76.69,0) scale(1.0871,1)" font-weight="400" letter-spacing="3.5" stroke="#fff" stroke-width="1.5">cm</text></g>
<g class="lbl" transform="translate(1425.0,1702.0) rotate(-11.4)" font-size="72" fill="#1c1c1c"><text transform="scale(0.9343,1)" font-weight="700">200</text><text transform="translate(114.30,0) scale(1.0900,1)" font-weight="400" letter-spacing="3.5" stroke="#fff" stroke-width="1.5">cm</text></g>
</svg>
</body></html>
